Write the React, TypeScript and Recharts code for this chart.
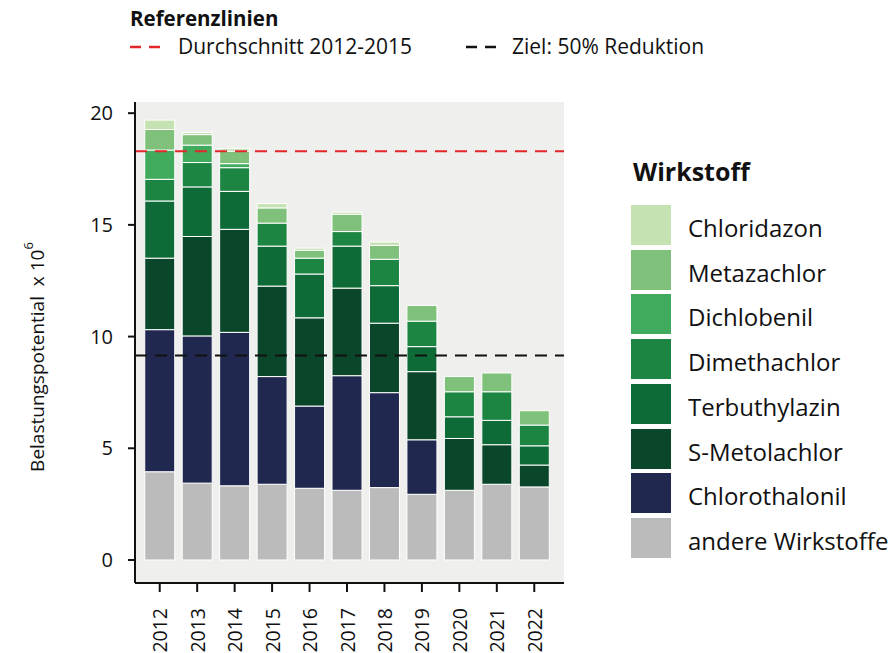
import React from 'react';
import { BarChart, Bar, XAxis, YAxis, CartesianGrid, ReferenceLine } from 'recharts';

const years = ['2012', '2013', '2014', '2015', '2016', '2017', '2018', '2019', '2020', '2021', '2022'];

// Werte x 10^6, von unten nach oben gestapelt
const andere = [3.95, 3.44, 3.32, 3.39, 3.21, 3.12, 3.24, 2.94, 3.12, 3.39, 3.27];
const chlorothalonil = [6.36, 6.59, 6.87, 4.82, 3.68, 5.13, 4.25, 2.44, 0, 0, 0];
const sMetolachlor = [3.2, 4.45, 4.61, 4.05, 3.95, 3.92, 3.11, 3.05, 2.32, 1.77, 0.98];
const terbuthylazin = [2.56, 2.22, 1.7, 1.79, 1.96, 1.88, 1.68, 1.12, 0.97, 1.09, 0.86];
const dimethachlor = [0.97, 1.09, 1.06, 1.03, 0.71, 0.65, 1.18, 1.14, 1.12, 1.28, 0.93];
const dichlobenil = [1.31, 0.78, 0.18, 0, 0, 0, 0, 0, 0, 0, 0];
const metazachlor = [0.92, 0.47, 0.56, 0.68, 0.35, 0.77, 0.62, 0.7, 0.68, 0.84, 0.64];
const chloridazon = [0.42, 0.1, 0.12, 0.19, 0.1, 0.1, 0.15, 0, 0, 0, 0];

const mittel2012_2015 = 18.3;
const ziel = 9.15;

const yTicks = [0, 5, 10, 15, 20];

const series = [
	{ key: 'andere', label: 'andere Wirkstoffe', color: '#bbbbbb', values: andere },
	{ key: 'chlorothalonil', label: 'Chlorothalonil', color: '#21284f', values: chlorothalonil },
	{ key: 'sMetolachlor', label: 'S-Metolachlor', color: '#0a4629', values: sMetolachlor },
	{ key: 'terbuthylazin', label: 'Terbuthylazin', color: '#0e6a37', values: terbuthylazin },
	{ key: 'dimethachlor', label: 'Dimethachlor', color: '#1d8542', values: dimethachlor },
	{ key: 'dichlobenil', label: 'Dichlobenil', color: '#41ab5d', values: dichlobenil },
	{ key: 'metazachlor', label: 'Metazachlor', color: '#7fc07b', values: metazachlor },
	{ key: 'chloridazon', label: 'Chloridazon', color: '#c5e2b3', values: chloridazon },
];

const data = years.map((year, i) => {
	const row: Record<string, string | number> = { year };
	series.forEach((s) => {
		row[s.key] = s.values[i];
	});
	return row;
});

const FONT = '"Open Sans", "Noto Sans", sans-serif';

function YearTick({ x, y, payload }: any) {
	return (
		<text
			x={0}
			y={0}
			transform={`translate(${x},${y + 14}) rotate(-90)`}
			textAnchor="end"
			dominantBaseline="central"
			fontSize={19.5}
			fontFamily={FONT}
			fill="#111"
		>
			{payload.value}
		</text>
	);
}

function DashSymbol({ color }: { color: string }) {
	return (
		<svg width={32} height={6} style={{ display: 'block' }}>
			<line x1={0} y1={3} x2={32} y2={3} stroke={color} strokeWidth={2.5} strokeDasharray="11 8" />
		</svg>
	);
}

export default function App() {
	return (
		<div
			style={{
				position: 'absolute',
				left: 0,
				top: 0,
				width: 895,
				height: 653,
				background: '#ffffff',
				fontFamily: FONT,
				color: '#111',
			}}
		>
			<BarChart
				width={895}
				height={653}
				data={data}
				margin={{ top: 102, right: 331, left: 75, bottom: 0 }}
				barCategoryGap="10%"
			>
				<CartesianGrid fill="#efefed" horizontal={false} vertical={false} />
				<XAxis
					dataKey="year"
					padding={{ left: 6, right: 11 }}
					height={70}
					tick={<YearTick />}
					tickSize={9}
					axisLine={{ stroke: '#111', strokeWidth: 2 }}
					tickLine={{ stroke: '#111', strokeWidth: 2 }}
					interval={0}
				/>
				<YAxis
					width={60}
					domain={[-1.03, 20.5]}
					ticks={yTicks}
					allowDataOverflow
					tickSize={7}
					tickMargin={15}
					tick={{ fontSize: 20, fill: '#111', fontFamily: FONT }}
					axisLine={{ stroke: '#111', strokeWidth: 2 }}
					tickLine={{ stroke: '#111', strokeWidth: 2 }}
				/>
				{series.map((s) => (
					<Bar
						key={s.key}
						dataKey={s.key}
						stackId="a"
						fill={s.color}
						stroke="#ffffff"
						strokeWidth={1}
						isAnimationActive={false}
					/>
				))}
				<ReferenceLine y={mittel2012_2015} stroke="#e3262b" strokeWidth={2} strokeDasharray="12 8" />
				<ReferenceLine y={ziel} stroke="#111" strokeWidth={2} strokeDasharray="12 8" />
			</BarChart>

			{/* Achsentitel */}
			<div
				style={{
					position: 'absolute',
					left: 37,
					top: 357,
					transform: 'translate(-50%, -50%) rotate(-90deg)',
					whiteSpace: 'nowrap',
					fontSize: 19,
				}}
			>
				Belastungspotential&nbsp; x 10<sup style={{ fontSize: 13, verticalAlign: 'top', position: 'relative', top: -5 }}>6</sup>
			</div>

			{/* Legende Referenzlinien */}
			<div style={{ position: 'absolute', left: 130, top: 4, fontSize: 20.5, fontWeight: 700 }}>Referenzlinien</div>
			<div style={{ position: 'absolute', left: 130, top: 44 }}>
				<DashSymbol color="#e3262b" />
			</div>
			<div style={{ position: 'absolute', left: 178, top: 32, fontSize: 21 }}>Durchschnitt 2012-2015</div>
			<div style={{ position: 'absolute', left: 466, top: 44 }}>
				<DashSymbol color="#111" />
			</div>
			<div style={{ position: 'absolute', left: 512, top: 32, fontSize: 21 }}>Ziel: 50% Reduktion</div>

			{/* Legende Wirkstoff */}
			<div style={{ position: 'absolute', left: 633, top: 154, fontSize: 25, fontWeight: 700 }}>Wirkstoff</div>
			{[...series].reverse().map((s, i) => (
				<div key={s.key}>
					<div
						style={{
							position: 'absolute',
							left: 631,
							top: 205 + i * 44.7,
							width: 40,
							height: 40,
							background: s.color,
						}}
					/>
					<div
						style={{
							position: 'absolute',
							left: 688,
							top: 205 + i * 44.7 + 22,
							transform: 'translateY(-50%)',
							fontSize: 24,
							whiteSpace: 'nowrap',
						}}
					>
						{s.label}
					</div>
				</div>
			))}
		</div>
	);
}
